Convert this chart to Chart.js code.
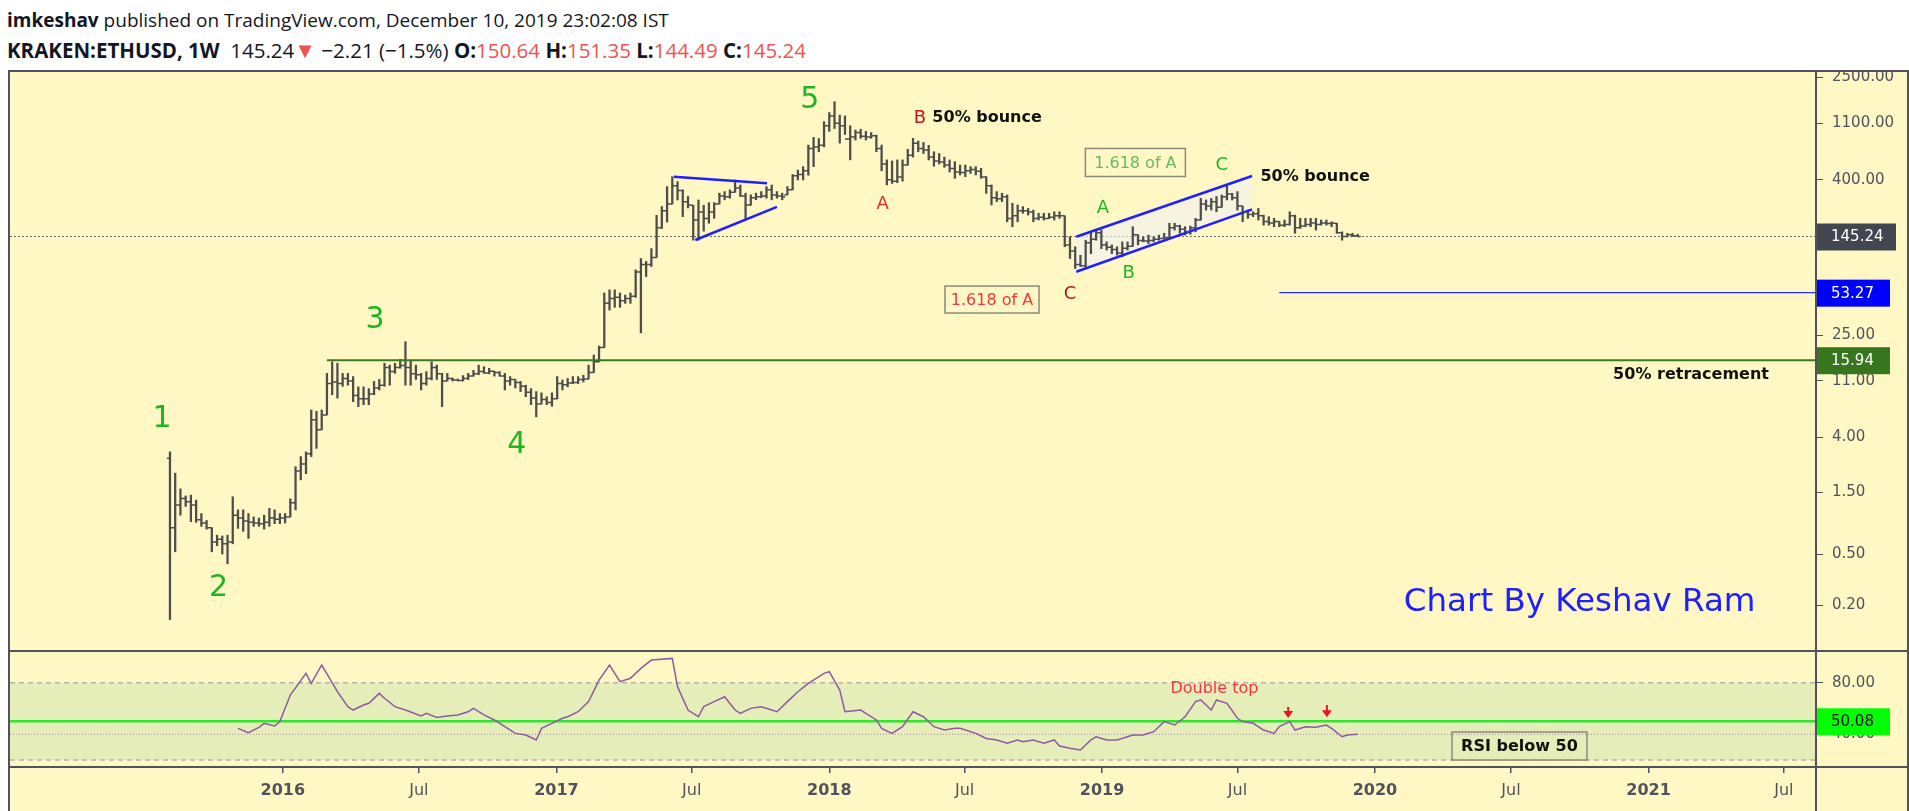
<!DOCTYPE html>
<html lang="en">
<head>
<meta charset="UTF-8">
<title>KRAKEN:ETHUSD, 1W</title>
<script src="https://cdn.jsdelivr.net/npm/chart.js@4.4.1/dist/chart.umd.min.js"></script>
<style>
    body { margin: 0; width: 1909px; height: 811px; overflow: hidden; background: #fff; position: relative; }
    .header { position: absolute; left: 7px; color: #131722; font-family: 'Open Sans', sans-serif; font-size: 19px; white-space: nowrap; }
    .line1 { top: 7px; }
    .line2 { top: 34px; font-size: 20.5px; }
    .line2 .tri { font-size: 22px; }
    .red { color: #ef5350; }
    .frame { position: absolute; left: 8px; top: 70px; width: 1901px; height: 745px; box-sizing: border-box; border: 2px solid #50535e; background: #fff8c4; }
    .sep { position: absolute; background: #50535e; z-index: 5; }
    canvas { position: absolute; left: 0; z-index: 2; }
</style>
</head>
<body>
    <div class="header line1"><b>imkeshav</b> published on TradingView.com, December 10, 2019 23:02:08 IST</div>
    <div class="header line2"><b>KRAKEN:ETHUSD, 1W</b>&nbsp; 145.24<span class="red tri">▼</span> −2.21 (−1.5%) <b>O:</b><span class="red">150.64</span> <b>H:</b><span class="red">151.35</span> <b>L:</b><span class="red">144.49</span> <b>C:</b><span class="red">145.24</span></div>
    <div class="frame"></div>
    <div class="sep" style="left:8px; top:650px; width:1901px; height:2px;"></div>
    <div class="sep" style="left:8px; top:766px; width:1901px; height:2px;"></div>
    <div class="sep" style="left:1815px; top:70px; width:2px; height:741px;"></div>

    <canvas id="priceChart" width="1909" height="579" style="top:72px;"></canvas>
    <canvas id="rsiChart" width="1909" height="158" style="top:653px;"></canvas>

<script>
// weekly bars, Kraken ETHUSD, first bar = week of 3 Aug 2015
const firstWeek = Date.UTC(2015, 7, 3);
const firstOpen = 2.77;

const highs = [
    3.1, 2.12, 1.6, 1.41, 1.43, 1.31, 1.03, 0.91, 0.80, 0.70,
    0.69, 0.70, 1.39, 1.10, 1.10, 1.03, 0.97, 0.95, 1.00, 1.13,
    1.10, 1.03, 1.03, 1.34, 2.38, 2.85, 3.1, 6.55, 6.4, 6.55,
    12.6, 15.5, 15.1, 12.6, 12.6, 11.9, 9.9, 9.9, 9.6, 10.9,
    11.3, 15.1, 14.6, 15.1, 16.2, 22.2, 16.0, 14.6, 12.6, 13.0,
    15.5, 14.6, 12.6, 12.6, 11.6, 11.4, 12.1, 12.6, 13.3, 14.6,
    14.2, 13.8, 13.1, 13.0, 12.6, 11.9, 11.3, 10.9, 10.2, 9.6,
    9.1, 8.9, 8.3, 8.9, 11.9, 11.2, 11.5, 11.9, 11.9, 12.2,
    14.6, 17.5, 20.5, 53, 56, 56, 53, 51, 53, 80,
    98, 93, 117, 212, 248, 354, 423, 387, 334, 297,
    254, 279, 254, 266, 266, 315, 324, 334, 399, 364,
    315, 306, 315, 324, 354, 364, 324, 315, 354, 440,
    476, 506, 744, 854, 836, 1130, 1330, 1615, 1270, 1250,
    1050, 973, 987, 950, 930, 890, 744, 571, 560, 571,
    571, 690, 839, 800, 780, 740, 660, 640, 600, 570,
    553, 521, 521, 506, 506, 491, 423, 365, 324, 314,
    305, 263, 255, 248, 240, 233, 220, 220, 220, 226,
    226, 210, 145, 121, 104, 136, 158, 163, 163, 132,
    125, 121, 132, 132, 173, 150, 145, 149, 145, 149,
    154, 184, 184, 178, 173, 175, 201, 287, 279, 287,
    297, 305, 365, 314, 324, 250, 233, 226, 240, 213,
    207, 201, 190, 195, 226, 213, 201, 201, 201, 201,
    195, 195, 189, 184, 158, 154, 154, 151.35
];
const lows = [
    0.155, 0.52, 1.0, 1.17, 0.89, 0.88, 0.82, 0.78, 0.52, 0.58,
    0.50, 0.42, 0.60, 0.79, 0.75, 0.66, 0.82, 0.82, 0.78, 0.82,
    0.86, 0.86, 0.87, 0.97, 1.10, 1.88, 2.1, 2.85, 3.3, 4.6,
    6.0, 8.6, 8.1, 10.0, 10.2, 7.6, 6.95, 7.2, 7.2, 8.6,
    9.37, 10.0, 10.2, 12.6, 13.8, 10.2, 10.2, 11.3, 9.37, 10.2,
    11.2, 11.3, 6.95, 11.0, 11.0, 11.0, 11.0, 11.3, 12.0, 12.3,
    12.6, 12.5, 12.0, 12.0, 9.37, 10.2, 9.7, 9.1, 8.3, 7.2,
    5.8, 7.3, 7.2, 7.0, 8.0, 9.37, 9.9, 10.5, 10.5, 10.8,
    11.4, 12.8, 15.5, 20, 39, 41, 41, 44, 44, 49,
    26, 71, 85, 100, 168, 188, 260, 279, 207, 242,
    136, 136, 160, 184, 201, 260, 280, 288, 320, 297,
    200, 254, 280, 290, 288, 280, 288, 280, 306, 335,
    399, 399, 434, 506, 660, 720, 950, 1000, 770, 900,
    571, 814, 839, 814, 840, 660, 470, 365, 375, 380,
    390, 520, 600, 660, 640, 570, 510, 530, 500, 460,
    411, 436, 423, 449, 436, 411, 314, 255, 271, 271,
    189, 173, 189, 220, 213, 189, 195, 195, 200, 195,
    201, 121, 98, 82, 85, 84, 107, 136, 117, 114,
    107, 104, 101, 114, 122, 125, 132, 128, 132, 136,
    140, 142, 163, 154, 149, 151, 158, 195, 233, 233,
    226, 245, 279, 279, 233, 189, 201, 207, 195, 178,
    178, 173, 173, 173, 178, 154, 168, 173, 173, 163,
    178, 178, 173, 154, 136, 144, 145, 144.49
];
const closes = [
    0.80, 1.20, 1.35, 1.27, 1.20, 0.92, 0.87, 0.80, 0.62, 0.65,
    0.60, 0.62, 1.00, 0.95, 0.90, 0.88, 0.87, 0.86, 0.88, 0.95,
    0.93, 0.95, 0.97, 1.25, 2.2, 2.5, 3.0, 5.5, 4.6, 6.0,
    10.5, 10.8, 10.5, 11.5, 11.0, 8.5, 8.0, 8.0, 8.7, 9.7,
    10.2, 14.0, 13.0, 14.0, 14.5, 14.0, 12.5, 12.3, 10.5, 11.5,
    14.0, 12.5, 11.0, 11.5, 11.2, 11.1, 11.5, 12.0, 12.5, 13.0,
    12.7, 13.1, 12.8, 12.0, 11.0, 11.3, 10.7, 10.0, 9.0, 8.1,
    7.3, 7.9, 7.5, 8.0, 10.5, 10.3, 10.6, 10.7, 11.3, 11.4,
    12.8, 15.5, 20, 44, 48, 49, 46, 48, 50, 77,
    88, 88, 100, 170, 230, 260, 360, 330, 270, 255,
    195, 225, 200, 225, 260, 300, 295, 320, 345, 300,
    255, 290, 295, 300, 335, 305, 300, 295, 335, 430,
    440, 470, 700, 720, 740, 1050, 1250, 1100, 1050, 830,
    860, 930, 870, 860, 880, 700, 530, 400, 390, 420,
    520, 620, 770, 700, 680, 600, 560, 550, 520, 490,
    460, 455, 470, 480, 465, 420, 360, 290, 285, 295,
    200, 210, 230, 230, 225, 200, 205, 200, 205, 210,
    210, 125, 112, 88, 86, 130, 138, 155, 125, 120,
    115, 108, 118, 122, 150, 135, 134, 135, 138, 140,
    142, 170, 175, 165, 158, 170, 195, 260, 250, 270,
    245, 295, 310, 290, 250, 225, 215, 218, 210, 190,
    185, 190, 178, 180, 210, 170, 175, 180, 185, 180,
    185, 183, 184, 155, 145, 150, 147.45, 145.24
];

// RSI(14): week index and value
const rsiWeeks = [
    13, 15, 17, 18, 20, 21, 23, 26, 27, 29, 32, 34, 35, 37, 38, 40, 41, 43, 45, 48,
    49, 51, 53, 55, 57, 58, 60, 62, 64, 66, 68, 70, 71, 73, 75, 76, 78, 80, 82, 84,
    86, 88, 90, 92, 96, 97, 99, 101, 102, 104, 106, 108, 109, 111, 113, 115, 116, 118, 120, 122,
    125, 126, 128, 129, 132, 133, 135, 136, 138, 140, 142, 144, 146, 148, 150, 151, 154, 156, 158, 160,
    162, 163, 165, 167, 169, 170, 172, 174, 176, 177, 179, 181, 183, 184, 186, 188, 190, 192, 194, 196,
    197, 199, 200, 202, 204, 205, 207, 209, 211, 212, 214, 215, 217, 219, 221, 222, 224, 225, 227
];
const rsiValues = [
    44.6, 41.2, 45.4, 48.5, 46.4, 49.8, 70.4, 87.2, 79.5, 93.7, 73, 61.4, 58.8, 62.7, 64, 71.7, 67.9, 61.4, 58.8, 54.2,
    56.2, 53.1, 54.2, 55, 57.5, 60.1, 55, 51.1, 45.9, 40.7, 39.4, 35.6, 44.6, 48.5, 52.4, 53.6, 57.5, 65.3, 82, 93.7,
    80.8, 83.4, 91.1, 97.5, 98.8, 76.9, 58.8, 53.6, 61.4, 65.3, 69.1, 58.8, 56.2, 60.1, 61.4, 58.8, 57.5, 65.3, 73, 79.5,
    87.2, 88.5, 74.3, 57.5, 58.8, 56.2, 51.1, 44.6, 40.7, 45.9, 57.5, 53.6, 45.9, 43.3, 44.6, 44.6, 40.7, 36.8, 35.6, 33,
    35.6, 34.3, 35.6, 33, 35.6, 30.9, 29.1, 27.8, 35.6, 38.1, 35.6, 35.6, 38.1, 39.4, 39.4, 42, 49.8, 47.2, 53.6, 65.3,
    66.6, 58.8, 66.6, 64, 52.4, 49.8, 48.5, 43.3, 40.7, 45.9, 49.8, 43.3, 45.9, 45.4, 47.2, 44.6, 38.1, 39.4, 40.0
];

const yTickValues = [2500, 1100, 400, 25, 11, 4, 1.5, 0.5, 0.2];
const rsiTickValues = [80, 40];
const xTickDates = ['2016-01', '2016-07', '2017-01', '2017-07', '2018-01', '2018-07', '2019-01', '2019-07', '2020-01', '2020-07', '2021-01', '2021-07'];
const xTickLabels = ['2016', 'Jul', '2017', 'Jul', '2018', 'Jul', '2019', 'Jul', '2020', 'Jul', '2021', 'Jul'];

const lastPrice = 145.24;
const supportLevel = 53.27;
const retraceLevel = 15.94;
const rsiLine = 50.08;
const rsiLast = 40.0;

const WEEK = 7 * 86400000;
const weekTime = w => firstWeek + w * WEEK;
const tickTime = s => Date.UTC(+s.slice(0, 4), +s.slice(5, 7) - 1, 1);
const xMin = Date.UTC(2015, 0, 1);
const xMax = Date.UTC(2021, 7, 13);

const FONT = "'DejaVu Sans', sans-serif";
const axisColor = '#50535e';
const barColor = '#4d4d4d';
const waveGreen = '#1fb51f';

function text(ctx, str, x, y, font, color, align) {
    ctx.font = font;
    ctx.fillStyle = color;
    ctx.textAlign = align || 'center';
    ctx.textBaseline = 'middle';
    ctx.fillText(str, x, y);
}

function axisTag(chart, value, label, bg, fg, width) {
    const ctx = chart.ctx;
    const y = chart.scales.y.getPixelForValue(value);
    const left = chart.chartArea.right;
    ctx.fillStyle = bg;
    ctx.fillRect(left, y - 13, width, 27);
    text(ctx, label, left + 15, y + 1, '15px ' + FONT, fg, 'left');
}

// Chart.js pads a scale by half a label; the reference panes run edge to edge
function noScalePadding(scale) {
    scale.paddingTop = 0;
    scale.paddingBottom = 0;
    scale.paddingLeft = 0;
    scale.paddingRight = 0;
}

// open / close ticks of the OHLC bars
const ohlcTicks = {
    id: 'ohlcTicks',
    afterDatasetsDraw(chart) {
        const { ctx, chartArea: a, scales: { x, y } } = chart;
        ctx.save();
        ctx.beginPath();
        ctx.rect(a.left, a.top, a.width, a.height);
        ctx.clip();
        ctx.strokeStyle = barColor;
        ctx.lineWidth = 1.5;
        ctx.beginPath();
        closes.forEach((c, i) => {
            const px = x.getPixelForValue(weekTime(i));
            let o = i === 0 ? firstOpen : closes[i - 1];
            o = Math.min(highs[i], Math.max(lows[i], o));
            const yo = y.getPixelForValue(o);
            const yc = y.getPixelForValue(c);
            ctx.moveTo(px - 3, yo);
            ctx.lineTo(px, yo);
            ctx.moveTo(px, yc);
            ctx.lineTo(px + 3, yc);
        });
        ctx.stroke();
        ctx.restore();
    }
};

// drawings on the price pane
const priceDrawings = {
    id: 'priceDrawings',
    beforeDatasetsDraw(chart) {
        const { ctx, chartArea: a, scales: { x, y } } = chart;
        const P = (w, v) => [x.getPixelForValue(weekTime(w)), y.getPixelForValue(v)];
        ctx.save();
        // last price dotted line
        const yl = y.getPixelForValue(lastPrice);
        ctx.strokeStyle = '#6a6a6a';
        ctx.lineWidth = 1;
        ctx.setLineDash([2, 2]);
        ctx.beginPath(); ctx.moveTo(a.left, yl); ctx.lineTo(a.right, yl); ctx.stroke();
        ctx.setLineDash([]);
        // channel fill
        const c1 = P(173.2, 144.7), c2 = P(206.8, 428), c3 = P(206.8, 236), c4 = P(173.2, 77.4);
        ctx.fillStyle = 'rgba(240, 240, 240, 0.6)';
        ctx.beginPath();
        ctx.moveTo(...c1); ctx.lineTo(...c2); ctx.lineTo(...c3); ctx.lineTo(...c4);
        ctx.closePath(); ctx.fill();
        ctx.restore();
    },
    afterDatasetsDraw(chart) {
        const { ctx, chartArea: a, scales: { x, y } } = chart;
        const P = (w, v) => [x.getPixelForValue(weekTime(w)), y.getPixelForValue(v)];
        const seg = (p, q, color, width) => {
            ctx.strokeStyle = color; ctx.lineWidth = width;
            ctx.beginPath(); ctx.moveTo(...p); ctx.lineTo(...q); ctx.stroke();
        };
        ctx.save();
        // horizontal levels
        const ys = y.getPixelForValue(supportLevel);
        seg([x.getPixelForValue(weekTime(212.0)), ys], [a.right, ys], '#2a2aff', 1.2);
        const yr = y.getPixelForValue(retraceLevel);
        seg([x.getPixelForValue(weekTime(30)), yr], [a.right, yr], '#3d7a22', 2);

        // triangle and channel
        const blue = '#1f1fff';
        seg(P(96.3, 423), P(114.1, 376), blue, 2.5);
        seg(P(100.4, 136.5), P(116.0, 247), blue, 2.5);
        seg(P(173.2, 144.7), P(206.8, 428), blue, 2.5);
        seg(P(173.2, 77.4), P(206.8, 236), blue, 2.5);

        // wave counts
        const big = '30px ' + FONT;
        [['1', -1.5, 5.6], ['2', 9.3, 0.271], ['3', 39.2, 32.7], ['4', 66.3, 3.5], ['5', 122.3, 1664]]
            .forEach(([t, w, v]) => text(ctx, t, ...P(w, v), big, waveGreen));
        const mid = '18px ' + FONT;
        text(ctx, 'A', ...P(136.2, 258), mid, '#e0302a');
        text(ctx, 'B', ...P(143.3, 1200), mid, '#c0141a');
        text(ctx, 'C', ...P(172.0, 52), mid, '#a51c1c');
        text(ctx, 'A', ...P(178.3, 240), mid, waveGreen);
        text(ctx, 'B', ...P(183.2, 75.3), mid, waveGreen);
        text(ctx, 'C', ...P(201.0, 521), mid, waveGreen);

        const boldFont = 'bold 16px ' + FONT;
        text(ctx, '50% bounce', ...P(145.7, 1200), boldFont, '#111', 'left');
        text(ctx, '50% bounce', ...P(208.4, 418), boldFont, '#111', 'left');
        text(ctx, '50% retracement', ...P(275.8, 12.35), boldFont, '#111', 'left');

        // boxed notes
        const boxed = (w, v, bw, bh, str, color) => {
            const [cx, cy] = P(w, v);
            ctx.strokeStyle = '#8c8a7e'; ctx.lineWidth = 1.5;
            ctx.strokeRect(cx - bw / 2, cy - bh / 2, bw, bh);
            text(ctx, str, cx, cy + 1, '16px ' + FONT, color);
        };
        boxed(157.1, 47.1, 94, 27, '1.618 of A', '#f23645');
        boxed(184.5, 545, 100, 28, '1.618 of A', '#66b86a');

        text(ctx, 'Chart By Keshav Ram', ...P(269.4, 0.2085), '32.5px ' + FONT, '#2020ff');
        ctx.restore();
    },
    afterDraw(chart) {
        const ctx = chart.ctx;
        ctx.save();
        axisTag(chart, lastPrice, lastPrice.toFixed(2), '#434651', '#fff', 80);
        axisTag(chart, supportLevel, supportLevel.toFixed(2), '#0000ff', '#fff', 74);
        axisTag(chart, retraceLevel, retraceLevel.toFixed(2), '#38761d', '#fff', 74);
        ctx.restore();
    }
};

// drawings on the RSI pane
const rsiDrawings = {
    id: 'rsiDrawings',
    beforeDatasetsDraw(chart) {
        const { ctx, chartArea: a, scales: { y } } = chart;
        const y80 = y.getPixelForValue(80), y20 = y.getPixelForValue(20);
        ctx.save();
        ctx.fillStyle = '#e5eeb9';
        ctx.fillRect(a.left, y80, a.width, y20 - y80);
        ctx.strokeStyle = '#b4b4aa';
        ctx.lineWidth = 1.5;
        ctx.setLineDash([5, 4]);
        [y80, y20].forEach(v => { ctx.beginPath(); ctx.moveTo(a.left, v); ctx.lineTo(a.right, v); ctx.stroke(); });
        ctx.setLineDash([1, 2]);
        ctx.strokeStyle = '#a57bb0';
        ctx.lineWidth = 1;
        const yl = y.getPixelForValue(rsiLast);
        ctx.beginPath(); ctx.moveTo(a.left, yl); ctx.lineTo(a.right, yl); ctx.stroke();
        ctx.setLineDash([]);
        ctx.strokeStyle = '#2ee62e';
        ctx.lineWidth = 2.5;
        const yg = y.getPixelForValue(rsiLine);
        ctx.beginPath(); ctx.moveTo(a.left, yg); ctx.lineTo(a.right, yg); ctx.stroke();
        ctx.restore();
    },
    afterDatasetsDraw(chart) {
        const { ctx, scales: { x, y } } = chart;
        const P = (w, v) => [x.getPixelForValue(weekTime(w)), y.getPixelForValue(v)];
        ctx.save();
        text(ctx, 'Double top', ...P(199.6, 75.1), '16px ' + FONT, '#f23645');
        // red arrows
        [[213.7, 61.2, 52.6], [221.1, 62.7, 53.2]].forEach(([w, top, tip]) => {
            const [ax, ay] = P(w, top);
            const ty = y.getPixelForValue(tip);
            ctx.strokeStyle = '#e8161b'; ctx.fillStyle = '#e8161b'; ctx.lineWidth = 2;
            ctx.beginPath(); ctx.moveTo(ax, ay); ctx.lineTo(ax, ty - 5); ctx.stroke();
            ctx.beginPath(); ctx.moveTo(ax - 5, ty - 7); ctx.lineTo(ax + 5, ty - 7); ctx.lineTo(ax, ty); ctx.closePath(); ctx.fill();
        });
        // note box
        const [bx, by] = P(257.9, 30.9);
        ctx.strokeStyle = '#8c8a7e'; ctx.lineWidth = 1.5;
        ctx.strokeRect(bx - 67.5, by - 14, 135, 28);
        text(ctx, 'RSI below 50', bx, by + 1, 'bold 16px ' + FONT, '#111');
        ctx.restore();
    },
    afterDraw(chart) {
        chart.ctx.save();
        axisTag(chart, rsiLine, rsiLine.toFixed(2), '#00ff00', '#111', 74);
        chart.ctx.restore();
    }
};

const yAxisBase = {
    position: 'right',
    border: { display: false },
    grid: { drawOnChartArea: false, drawTicks: true, tickLength: 7, color: axisColor, lineWidth: 1 },
    afterFit(scale) { scale.width = 93; noScalePadding(scale); }
};

new Chart(document.getElementById('priceChart'), {
    type: 'bar',
    data: {
        datasets: [{
            data: highs.map((h, i) => ({ x: weekTime(i), y: [lows[i], h] })),
            backgroundColor: barColor,
            barThickness: 1.6,
            grouped: false
        }]
    },
    options: {
        responsive: false,
        animation: false,
        layout: { autoPadding: false, padding: { left: 10, top: 0, right: 0, bottom: 0 } },
        plugins: { legend: { display: false }, tooltip: { enabled: false } },
        scales: {
            x: { type: 'linear', display: false, offset: false, min: xMin, max: xMax },
            y: {
                ...yAxisBase,
                type: 'logarithmic',
                min: 0.0884,
                max: 2744,
                afterBuildTicks(scale) { scale.ticks = yTickValues.map(v => ({ value: v })); },
                ticks: {
                    color: axisColor, padding: 9, font: { family: FONT, size: 15 },
                    callback: v => Number(v).toFixed(2)
                }
            }
        }
    },
    plugins: [priceDrawings, ohlcTicks]
});

new Chart(document.getElementById('rsiChart'), {
    type: 'line',
    data: {
        datasets: [{
            data: rsiWeeks.map((w, i) => ({ x: weekTime(w), y: rsiValues[i] })),
            borderColor: '#8f5aa0',
            borderWidth: 1.5,
            pointRadius: 0,
            tension: 0
        }]
    },
    options: {
        responsive: false,
        animation: false,
        layout: { autoPadding: false, padding: { left: 10, top: 0, right: 0, bottom: 0 } },
        plugins: { legend: { display: false }, tooltip: { enabled: false } },
        scales: {
            x: {
                type: 'linear', min: xMin, max: xMax, offset: false,
                border: { display: false },
                grid: { drawOnChartArea: false, drawTicks: true, tickLength: 6, color: axisColor, lineWidth: 1.5 },
                afterBuildTicks(scale) { scale.ticks = xTickDates.map(s => ({ value: tickTime(s) })); },
                afterFit(scale) { scale.height = 44; noScalePadding(scale); },
                ticks: {
                    color: axisColor, padding: 8, maxRotation: 0, autoSkip: false,
                    font: ctx => ({ family: FONT, size: 16, weight: ctx.index % 2 === 0 ? 'bold' : 'normal' }),
                    callback: (v, i) => xTickLabels[i]
                }
            },
            y: {
                ...yAxisBase,
                min: 14.65,
                max: 103.0,
                afterBuildTicks(scale) { scale.ticks = rsiTickValues.map(v => ({ value: v })); },
                ticks: {
                    color: axisColor, padding: 9, font: { family: FONT, size: 15 },
                    callback: v => Number(v).toFixed(2)
                }
            }
        }
    },
    plugins: [rsiDrawings]
});
</script>
</body>
</html>
